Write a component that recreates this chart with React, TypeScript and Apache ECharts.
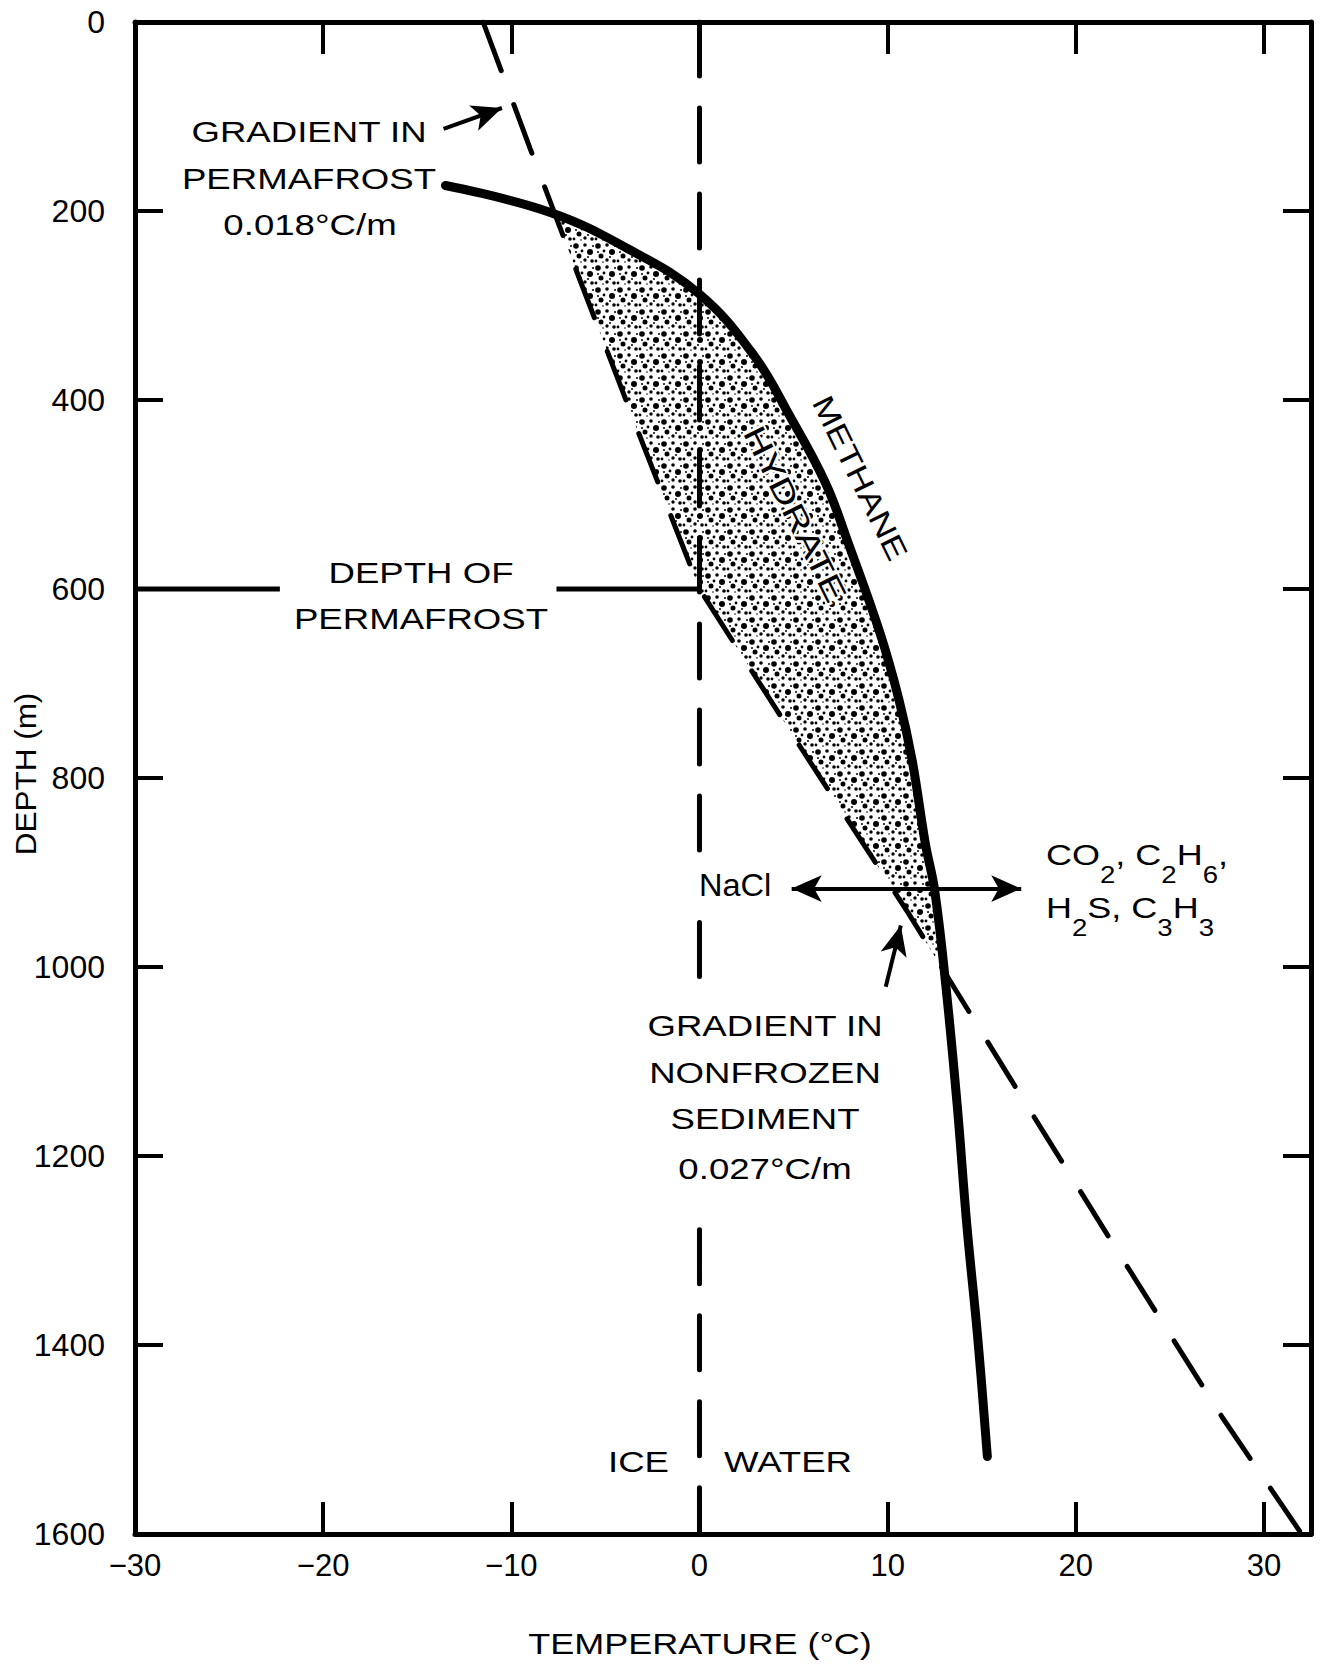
import React, { useEffect, useRef } from "react";
import * as echarts from "echarts";

// ---- axes ----
const X_MIN = -30;
const X_MAX = 32.5;
const X_STEP = 10;
const Y_MIN = 0;
const Y_MAX = 1600;
const Y_STEP = 200;

// ---- methane hydrate stability curve (temperature °C, depth m) ----
const methaneTemp = [-13.5, -8.0, -3.8, 0, 2.9, 4.8, 6.7, 7.9, 9.6, 10.6, 11.3, 12.0, 12.5, 13.1, 13.7, 14.2, 14.8, 15.3];
const methaneDepth = [173, 201, 240, 288, 353, 417, 488, 551, 647, 717, 781, 869, 919, 1021, 1147, 1271, 1395, 1518];

// ---- geothermal gradient (permafrost 0-600 m, nonfrozen below) ----
const geoTemp = [-11.5, -9.0, -6.45, -3.35, 0, 5.0, 11.1, 16.7, 22.2, 27.8, 32.0];
const geoDepth = [0, 134, 268, 429, 600, 756, 943, 1124, 1300, 1477, 1600];

// ---- ice / water boundary (0 °C), drawn in segments, and depth of permafrost ----
const iceWaterTemp = 0;
const iceWaterSegments = [[0, 892], [953, 1019], [1278, 1600]];
const permafrostDepth = 600;
const depthLineLeft = [-30, -22.3];
const depthLineRight = [-7.6, 0];

// ---- annotation arrows [temp, depth] ----
const naclArrow = [[4.9, 917], [17.1, 917]];
const permafrostArrow = [[-13.6, 113], [-10.5, 91]];
const nonfrozenArrow = [[9.9, 1021], [10.7, 956]];

const FONT = '"Liberation Sans", Arial, Helvetica, sans-serif';

function tempAt(ts: number[], ds: number[], d: number): number {
  if (d <= ds[0]) return ts[0];
  for (let i = 0; i < ds.length - 1; i++) {
    if (d >= ds[i] && d <= ds[i + 1]) {
      const f = (d - ds[i]) / (ds[i + 1] - ds[i]);
      return ts[i] + f * (ts[i + 1] - ts[i]);
    }
  }
  return ts[ts.length - 1];
}

function findCrossing(from: number, to: number): number {
  let prev = tempAt(methaneTemp, methaneDepth, from) - tempAt(geoTemp, geoDepth, from);
  for (let d = from + 1; d <= to; d++) {
    const cur = tempAt(methaneTemp, methaneDepth, d) - tempAt(geoTemp, geoDepth, d);
    if ((prev <= 0 && cur > 0) || (prev >= 0 && cur < 0)) return d;
    prev = cur;
  }
  return to;
}

function hydratePolygon(): number[][] {
  const top = findCrossing(methaneDepth[0], 500);
  const bottom = findCrossing(700, 1400);
  const pts: number[][] = [];
  pts.push([tempAt(methaneTemp, methaneDepth, top), top]);
  methaneDepth.forEach((d, i) => {
    if (d > top && d < bottom) pts.push([methaneTemp[i], d]);
  });
  pts.push([tempAt(methaneTemp, methaneDepth, bottom), bottom]);
  for (let i = geoDepth.length - 1; i >= 0; i--) {
    if (geoDepth[i] > top && geoDepth[i] < bottom) pts.push([geoTemp[i], geoDepth[i]]);
  }
  pts.push([tempAt(geoTemp, geoDepth, top), top]);
  return pts;
}

function makeStipple(): HTMLCanvasElement {
  const S = 22;
  const c = document.createElement("canvas");
  c.width = S;
  c.height = S;
  const g = c.getContext("2d")!;
  g.fillStyle = "#ffffff";
  g.fillRect(0, 0, S, S);
  g.fillStyle = "#000000";
  const dots = [
    [4, 4, 2.8], [13, 3, 1.8], [18, 10, 3.0], [7, 14, 2.5], [13, 18, 1.7],
    [2, 19, 1.4], [10, 9, 1.4], [20, 19, 1.8], [4, 10, 1.0], [16, 15, 1.0], [21, 4, 1.0], [9, 20, 0.8],
  ];
  for (const [x, y, r] of dots) {
    g.beginPath();
    g.arc(x, y, r, 0, Math.PI * 2);
    g.fill();
  }
  return c;
}

function txt(text: string, x: number, y: number, o: any = {}) {
  return {
    type: "text",
    x,
    y,
    scaleX: o.sx ?? 1.22,
    rotation: o.rot ?? 0,
    z: 100,
    silent: true,
    style: {
      text,
      x: 0,
      y: 0,
      fill: "#000",
      font: `${o.size ?? 30}px ${FONT}`,
      align: o.align ?? "center",
      verticalAlign: o.valign ?? "middle",
      ...(o.extra || {}),
    },
  };
}

function formulaLine(text: string, x: number, y: number) {
  return {
    type: "text",
    x,
    y,
    scaleX: 1.2,
    z: 100,
    silent: true,
    style: {
      text,
      x: 0,
      y: 0,
      align: "left",
      verticalAlign: "top",
      fill: "#000",
      rich: {
        n: { fontSize: 30, fontFamily: FONT, lineHeight: 46, verticalAlign: "top", fill: "#000" },
        s: { fontSize: 23, fontFamily: FONT, verticalAlign: "bottom", fill: "#000" },
      },
    },
  };
}

const axisLineStyle = { color: "#000", width: 5 };

export default function App() {
  const ref = useRef<HTMLDivElement>(null);

  useEffect(() => {
    document.body.style.margin = "0";
    if (!ref.current) return;
    const chart = echarts.init(ref.current, undefined, { renderer: "svg" });
    const stipple = makeStipple();
    const poly = hydratePolygon();

    const xLab = (v: number) =>
      Math.abs(v % X_STEP) < 1e-9 ? (v < 0 ? "\u2212" + Math.abs(v) : String(v)) : "";

    const baseX = {
      type: "value",
      min: X_MIN,
      max: X_MAX,
      interval: X_STEP,
      splitLine: { show: false },
      axisLine: { show: true, onZero: false, lineStyle: axisLineStyle },
      axisTick: { show: true, inside: true, length: 32, lineStyle: { color: "#000", width: 4 } },
    };
    const baseY = {
      type: "value",
      inverse: true,
      min: Y_MIN,
      max: Y_MAX,
      interval: Y_STEP,
      splitLine: { show: false },
      axisLine: { show: true, onZero: false, lineStyle: axisLineStyle },
      axisTick: { show: true, inside: true, length: 28, lineStyle: { color: "#000", width: 4 } },
    };

    const lineBase = { type: "line", symbol: "none", silent: true, xAxisIndex: 0, yAxisIndex: 0 };

    const iceWaterSeries = iceWaterSegments.map((seg, i) => ({
      ...lineBase,
      name: "Ice/Water " + (i + 1),
      z: 3,
      data: seg.map((d) => [iceWaterTemp, d]),
      lineStyle: { color: "#000", width: 5, type: [54, 32], cap: "round" },
    }));

    chart.setOption({
      animation: false,
      grid: { left: 135, top: 22, width: 1176, height: 1512, containLabel: false },
      xAxis: [
        {
          ...baseX,
          position: "bottom",
          axisLabel: { margin: 16, fontSize: 31, fontFamily: FONT, color: "#000", formatter: xLab },
        },
        { ...baseX, position: "top", axisLabel: { show: false } },
      ],
      yAxis: [
        {
          ...baseY,
          position: "left",
          axisLabel: {
            margin: 30,
            fontSize: 32,
            fontFamily: FONT,
            color: "#000",
            formatter: (v: number) => String(v),
          },
        },
        { ...baseY, position: "right", axisLabel: { show: false } },
      ],
      series: [
        {
          type: "custom",
          name: "Methane hydrate",
          coordinateSystem: "cartesian2d",
          xAxisIndex: 0,
          yAxisIndex: 0,
          silent: true,
          z: 1,
          data: [[0, 0]],
          renderItem: (_p: any, api: any) => ({
            type: "polygon",
            shape: { points: poly.map((p) => api.coord(p)) },
            style: { fill: { image: stipple, repeat: "repeat" }, stroke: null },
          }),
        },
        ...iceWaterSeries,
        {
          ...lineBase,
          name: "Annotation arrows",
          z: 6,
          data: [],
          markLine: {
            silent: true,
            symbol: ["arrow", "arrow"],
            symbolSize: [20, 30],
            label: { show: false },
            lineStyle: { color: "#000", width: 4, type: "solid" },
            data: [
              [{ coord: naclArrow[0] }, { coord: naclArrow[1] }],
              [{ coord: permafrostArrow[0], symbol: "none" }, { coord: permafrostArrow[1] }],
              [{ coord: nonfrozenArrow[0], symbol: "none" }, { coord: nonfrozenArrow[1] }],
            ],
          },
        },
        {
          ...lineBase,
          name: "Depth of permafrost (left)",
          z: 3,
          data: depthLineLeft.map((t) => [t, permafrostDepth]),
          lineStyle: { color: "#000", width: 5 },
        },
        {
          ...lineBase,
          name: "Depth of permafrost (right)",
          z: 3,
          data: depthLineRight.map((t) => [t, permafrostDepth]),
          lineStyle: { color: "#000", width: 5 },
        },
        {
          ...lineBase,
          name: "Geothermal gradient",
          z: 4,
          data: geoTemp.map((t, i) => [t, geoDepth[i]]),
          lineStyle: { color: "#000", width: 5, type: [52, 36], cap: "round" },
        },
        {
          ...lineBase,
          name: "Methane",
          z: 5,
          smooth: 0.4,
          data: methaneTemp.map((t, i) => [t, methaneDepth[i]]),
          lineStyle: { color: "#000", width: 9, cap: "round" },
        },
      ],
      graphic: [
        txt("GRADIENT IN", 309, 132),
        txt("PERMAFROST", 309, 179),
        txt("0.018\u00B0C/m", 310, 225),
        txt("DEPTH OF", 421, 573),
        txt("PERMAFROST", 421, 619),
        txt("METHANE", 860, 478, { rot: -1.115 }),
        txt("HYDRATE", 795, 514, { rot: -1.107, sx: 1.32, size: 31, extra: { stroke: "#fff", lineWidth: 4 } }),
        txt("NaCl", 699, 885, { align: "left", sx: 1.05, size: 31 }),
        formulaLine("{n|CO}{s|2}{n|, C}{s|2}{n|H}{s|6}{n|,}", 1046, 840),
        formulaLine("{n|H}{s|2}{n|S, C}{s|3}{n|H}{s|3}", 1046, 893),
        txt("GRADIENT IN", 765, 1026),
        txt("NONFROZEN", 765, 1073),
        txt("SEDIMENT", 765, 1119),
        txt("0.027\u00B0C/m", 765, 1169),
        txt("ICE", 669, 1462, { align: "right" }),
        txt("WATER", 724, 1462, { align: "left" }),
        txt("DEPTH (m)", 26, 774, { rot: Math.PI / 2, sx: 1.05 }),
        txt("TEMPERATURE (\u00B0C)", 700, 1644, { size: 30, sx: 1.2 }),
      ],
    });

    return () => chart.dispose();
  }, []);

  return <div ref={ref} style={{ width: 1325, height: 1664 }} />;
}
